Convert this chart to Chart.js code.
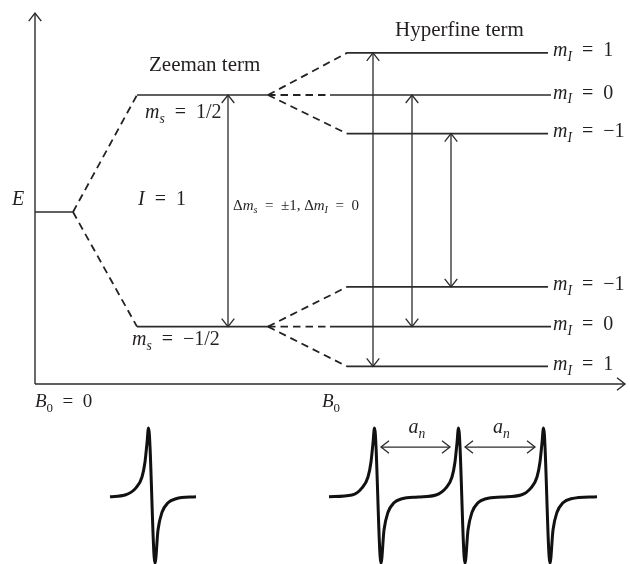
<!DOCTYPE html>
<html><head><meta charset="utf-8">
<script src="https://cdn.jsdelivr.net/npm/chart.js@4/dist/chart.umd.min.js"></script>
<style>html,body{margin:0;padding:0;background:#fff}#wrap{width:630px;height:564px;position:relative}</style>
</head><body><div id="wrap"><canvas id="c"></canvas></div>
<script>
// ---------------- data ----------------
const titles = ['Zeeman term', 'Hyperfine term'];
const nuclearSpin = '1';
const groundEnergy = 0;
const zeemanEnergy = [1.0, -0.98];              // m_s = +1/2, -1/2
const zeemanLabels = ['1/2', '\u22121/2'];
const hyperfineUpper = [1.36, 1.0, 0.67];       // m_I = 1, 0, -1
const hyperfineLower = [-0.64, -0.98, -1.32];   // m_I = -1, 0, 1
const mIUpperLabels = ['1', '0', '\u22121'];
const mILowerLabels = ['\u22121', '0', '1'];
const transitionField = [33.8, 37.7, 41.6];     // m_I = 1, 0, -1 transitions
const zeemanTransitionField = 19.3;
const singleField  = [7.5, 9.0, 10.1, 10.7, 11.0, 11.2, 11.35, 12.0, 12.3, 12.7, 13.3, 14.1, 16.1];
const singleSignal = [-0.01, 0.015, 0.12, 0.28, 0.5, 0.78, 1.0, -0.99, -0.5, -0.24, -0.1, -0.04, -0.01];
const tripleField  = [29.4, 31.7, 32.7, 33.3, 33.6, 33.8, 33.95, 34.6, 34.9, 35.3, 35.9, 36.7, 38.3,
                      40.1, 41.1, 41.7, 42.0, 42.2, 42.35, 43.0, 43.3, 43.7, 44.3, 45.1, 46.7,
                      48.6, 49.6, 50.2, 50.5, 50.7, 50.85, 51.5, 51.8, 52.2, 52.8, 53.6, 56.2];
const tripleSignal = [-0.01, 0.015, 0.12, 0.28, 0.5, 0.78, 1.0, -0.99, -0.5, -0.24, -0.1, -0.04, -0.015,
                      0.015, 0.12, 0.28, 0.5, 0.78, 1.0, -0.99, -0.5, -0.24, -0.1, -0.04, -0.015,
                      0.015, 0.12, 0.28, 0.5, 0.78, 1.0, -0.99, -0.5, -0.24, -0.1, -0.04, -0.01];
const lineCenters = [34.3, 42.7, 51.2];

// ---------------- layout ----------------
const LAY = {
  axisTop: 1.70, axisBottom: -1.47, axisRight: 59.0,
  groundEnd: 3.8, zeemanStart: 10.2, zeemanEnd: 23.3,
  hfStart: 31.2, hfMidStart: 29.5, hfEnd: 51.3, hfMidEnd: 51.6, hfLabelX: 51.8,
  anY: 0.72, anGapL: 0.3, anGapR: 1.2
};
const INK = '#2b2b2b', TXT = '#231f20';
const FONT = '"Liberation Serif", "Times New Roman", serif';

const seg = (pts) => pts.map(p => ({x: p[0], y: p[1]}));
const datasets = [];
const add = (pts, o = {}) => datasets.push(Object.assign({
  data: seg(pts), showLine: true, pointRadius: 0, borderColor: INK, borderWidth: 1.5,
  fill: false, tension: 0, yAxisID: 'y'
}, o));
const DASH = {borderDash: [7.5, 5], borderWidth: 1.8, borderColor: '#222'};

// axes
add([[0, LAY.axisBottom], [0, LAY.axisTop]], {arrow: 'end', borderWidth: 1.4});
add([[0, LAY.axisBottom], [LAY.axisRight, LAY.axisBottom]], {arrow: 'end', borderWidth: 1.4});
// ground level and split
add([[0, groundEnergy], [LAY.groundEnd, groundEnergy]]);
zeemanEnergy.forEach(e => add([[LAY.groundEnd, groundEnergy], [LAY.zeemanStart, e]], DASH));
zeemanEnergy.forEach(e => add([[LAY.zeemanStart, e], [LAY.zeemanEnd, e]], {borderWidth: 1.7}));
// hyperfine splitting
[[zeemanEnergy[0], hyperfineUpper], [zeemanEnergy[1], hyperfineLower]].forEach(([e, hs]) => {
  hs.forEach((h, i) => {
    const mid = i === 1;
    const s = mid ? LAY.hfMidStart : LAY.hfStart;
    add([[LAY.zeemanEnd, e], [s, h]], DASH);
    add([[s, h], [mid ? LAY.hfMidEnd : LAY.hfEnd, h]], {borderWidth: 1.7});
  });
});
// transitions
add([[zeemanTransitionField, zeemanEnergy[1]], [zeemanTransitionField, zeemanEnergy[0]]], {arrow: 'both', borderWidth: 1.3});
transitionField.forEach((b, i) => add([[b, hyperfineLower[2 - i]], [b, hyperfineUpper[i]]], {arrow: 'both', borderWidth: 1.3}));
// spectra
const spec = {yAxisID: 'y2', borderWidth: 3, borderColor: '#111', cubicInterpolationMode: 'monotone', borderJoinStyle: 'round', borderCapStyle: 'butt'};
add(singleField.map((b, i) => [b, singleSignal[i]]), spec);
add(tripleField.map((b, i) => [b, tripleSignal[i]]), spec);
// a_n arrows
for (let i = 0; i < lineCenters.length - 1; i++) {
  add([[lineCenters[i] + LAY.anGapL, LAY.anY], [lineCenters[i + 1] - LAY.anGapR, LAY.anY]], {yAxisID: 'y2', arrow: 'both', borderWidth: 1.3});
}

// ---------------- text ----------------
const eqn = (v, sub, rhs) => [{t: v, it: 1}, {t: sub, it: 1, sub: 1}, {t: '\u2002=\u2002' + rhs}];
const texts = [
  {x: 11.4, y: 1.205, size: 21, segs: [{t: titles[0]}]},
  {x: 36.0, y: 1.504, size: 21, segs: [{t: titles[1]}]},
  {x: 11.0, y: 0.803, size: 20, segs: eqn('m', 's', zeemanLabels[0])},
  {x: 9.7, y: -1.137, size: 20, segs: eqn('m', 's', zeemanLabels[1])},
  {x: 10.3, y: 0.06, size: 20, segs: [{t: 'I', it: 1}, {t: '\u2002=\u2002' + nuclearSpin}]},
  {x: -2.3, y: 0.06, size: 20, segs: [{t: 'E', it: 1}]},
  {x: 19.8, y: 0.02, size: 15, segs: [{t: '\u0394'}, {t: 'm', it: 1}, {t: 's', it: 1, sub: 1}, {t: '\u2002=\u2002\u00b11, \u0394'}, {t: 'm', it: 1}, {t: 'I', it: 1, sub: 1}, {t: '\u2002=\u20020'}]},
  {x: 0, y: -1.667, size: 19, segs: [{t: 'B', it: 1}, {t: '0', sub: 1}, {t: '\u2002=\u20020'}]},
  {x: 28.7, y: -1.667, size: 19, segs: [{t: 'B', it: 1}, {t: '0', sub: 1}]}
];
hyperfineUpper.forEach((h, i) => texts.push({x: LAY.hfLabelX, y: h - 0.03, size: 20, segs: eqn('m', 'I', mIUpperLabels[i])}));
hyperfineLower.forEach((h, i) => texts.push({x: LAY.hfLabelX, y: h - 0.03, size: 20, segs: eqn('m', 'I', mILowerLabels[i])}));
for (let i = 0; i < lineCenters.length - 1; i++) {
  texts.push({x: (lineCenters[i] + lineCenters[i + 1]) / 2 - 0.3, y: 0.93, axis: 'y2', center: true, size: 20, segs: [{t: 'a', it: 1}, {t: 'n', it: 1, sub: 1}]});
}

function drawRich(ctx, px, py, segs, size, center) {
  const fontOf = s => (s.it ? 'italic ' : '') + (s.sub ? size * 0.68 : size) + 'px ' + FONT;
  let w = 0;
  segs.forEach(s => { ctx.font = fontOf(s); w += ctx.measureText(s.t).width; });
  let x = center ? px - w / 2 : px;
  segs.forEach(s => {
    ctx.font = fontOf(s);
    ctx.fillText(s.t, x, py + (s.sub ? size * 0.24 : 0));
    x += ctx.measureText(s.t).width;
  });
}

const overlay = {
  id: 'overlay',
  afterDatasetsDraw(chart) {
    const ctx = chart.ctx;
    chart.data.datasets.forEach((ds, i) => {
      if (!ds.arrow) return;
      const pts = chart.getDatasetMeta(i).data;
      const head = (tip, from) => {
        const dx = tip.x - from.x, dy = tip.y - from.y, L = Math.hypot(dx, dy);
        const ux = dx / L, uy = dy / L, len = 8, hw = 6.3;
        ctx.beginPath();
        ctx.moveTo(tip.x - ux * len - uy * hw, tip.y - uy * len + ux * hw);
        ctx.lineTo(tip.x, tip.y);
        ctx.lineTo(tip.x - ux * len + uy * hw, tip.y - uy * len - ux * hw);
        ctx.stroke();
      };
      ctx.save();
      ctx.strokeStyle = ds.borderColor; ctx.lineWidth = ds.borderWidth; ctx.setLineDash([]);
      const n = pts.length;
      if (ds.arrow === 'end' || ds.arrow === 'both') head(pts[n - 1], pts[n - 2]);
      if (ds.arrow === 'start' || ds.arrow === 'both') head(pts[0], pts[1]);
      ctx.restore();
    });
    ctx.save();
    ctx.fillStyle = TXT; ctx.textBaseline = 'alphabetic'; ctx.textAlign = 'left';
    const sx = chart.scales.x;
    texts.forEach(t => {
      const sy = chart.scales[t.axis || 'y'];
      drawRich(ctx, sx.getPixelForValue(t.x), sy.getPixelForValue(t.y), t.segs, t.size, t.center);
    });
    ctx.restore();
  }
};

new Chart(document.getElementById('c'), {
  type: 'scatter',
  data: {datasets},
  options: {
    responsive: true, maintainAspectRatio: false, animation: false, events: [],
    layout: {padding: 0},
    plugins: {legend: {display: false}, tooltip: {enabled: false}},
    scales: {
      x: {type: 'linear', min: -3.5, max: 59.5, display: false},
      y: {type: 'linear', min: -3.0085, max: 1.812, display: false},
      y2: {type: 'linear', min: -1.0, max: 7.294, display: false}
    }
  },
  plugins: [overlay]
});
</script></body></html>
